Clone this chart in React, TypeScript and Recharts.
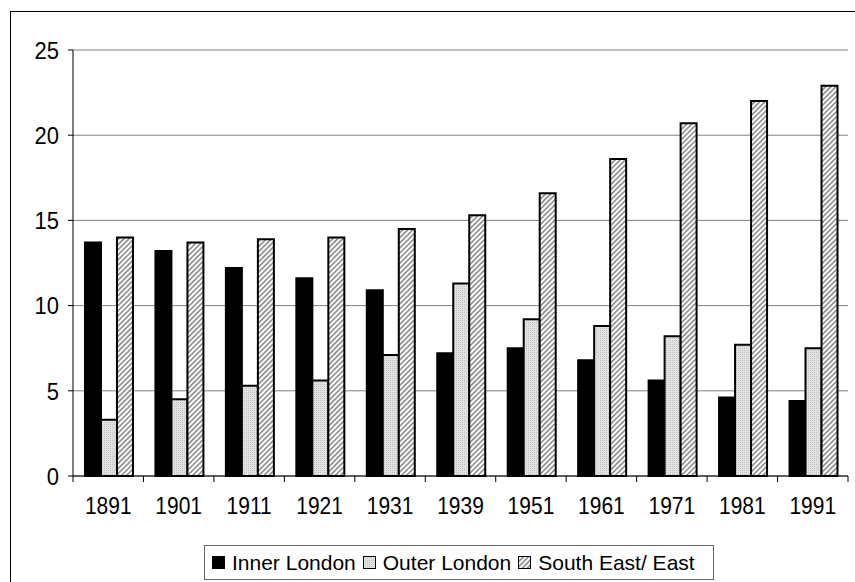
import { BarChart, Bar, XAxis, YAxis, CartesianGrid, Legend } from 'recharts'

const years = ['1891', '1901', '1911', '1921', '1931', '1939', '1951', '1961', '1971', '1981', '1991']
const innerLondon = [13.7, 13.2, 12.2, 11.6, 10.9, 7.2, 7.5, 6.8, 5.6, 4.6, 4.4]
const outerLondon = [3.3, 4.5, 5.3, 5.6, 7.1, 11.3, 9.2, 8.8, 8.2, 7.7, 7.5]
const southEast = [14.0, 13.7, 13.9, 14.0, 14.5, 15.3, 16.6, 18.6, 20.7, 22.0, 22.9]
const yTicks = [0, 5, 10, 15, 20, 25]

const seriesNames = ['Inner London', 'Outer London', 'South East/ East']

const data = years.map((year, i) => ({
    year,
    inner: innerLondon[i],
    outer: outerLondon[i],
    se: southEast[i],
}))

const W = 855
const H = 582
const FONT = '"Liberation Sans", Arial, sans-serif'
const PLOT_LEFT = 73
const PLOT_RIGHT = 848
const HALF_BAND = (PLOT_RIGHT - PLOT_LEFT) / years.length / 2

const fills = ['#000', 'url(#outerDots)', 'url(#seHatch)']

function XTick({ x, y, payload, index }: any) {
    return (
        <g>
            <line x1={x - HALF_BAND} x2={x - HALF_BAND} y1={y} y2={y + 6} stroke="#000" />
            {index === years.length - 1 && (
                <line x1={x + HALF_BAND} x2={x + HALF_BAND} y1={y} y2={y + 6} stroke="#000" />
            )}
            <text
                transform={`translate(${x},${y + 38}) scale(1,1.12)`}
                textAnchor="middle"
                fill="#000"
                fontSize={21}
                fontFamily={FONT}
            >
                {payload.value}
            </text>
        </g>
    )
}

function YTick({ x, y, payload }: any) {
    return (
        <text
            transform={`translate(${x},${y}) scale(1,1.1)`}
            dy="0.36em"
            textAnchor="end"
            fill="#000"
            fontSize={22}
            fontFamily={FONT}
        >
            {payload.value}
        </text>
    )
}

function ChartLegend() {
    return (
        <div
            style={{
                position: 'absolute',
                left: 204,
                top: 545,
                width: 508,
                height: 33,
                border: '1px solid #666',
                background: '#fff',
                display: 'flex',
                alignItems: 'center',
                fontFamily: FONT,
                fontSize: 21,
                color: '#000',
                boxSizing: 'content-box',
                whiteSpace: 'nowrap',
            }}
        >
            {seriesNames.map((name, i) => (
                <div key={name} style={{ display: 'flex', alignItems: 'center', marginLeft: i === 0 ? 7 : 7 }}>
                    <svg width={13} height={13} style={{ marginRight: 7 }}>
                        <rect x={0.5} y={0.5} width={12} height={12} fill={fills[i]} stroke="#000" strokeWidth={1} />
                    </svg>
                    <span>{name}</span>
                </div>
            ))}
        </div>
    )
}

export default function App() {
    return (
        <div style={{ position: 'absolute', left: 0, top: 0, width: W, height: H, overflow: 'hidden', background: '#fff' }}>
            <div
                style={{
                    position: 'absolute',
                    left: 10,
                    top: 11,
                    width: 900,
                    height: 700,
                    borderLeft: '1px solid #000',
                    borderTop: '1px solid #000',
                }}
            />
            <BarChart
                width={W}
                height={H}
                data={data}
                margin={{ top: 50, right: W - PLOT_RIGHT, left: 10, bottom: 76 }}
                barCategoryGap="17%"
                barGap={0}
                style={{ position: 'absolute', left: 0, top: 0 }}
            >
                <defs>
                    <pattern id="outerDots" width={2} height={2} patternUnits="userSpaceOnUse">
                        <rect width={2} height={2} fill="#e2e2e2" />
                        <rect x={0} y={0} width={1} height={1} fill="#c4c4c4" />
                    </pattern>
                    <pattern id="seHatch" width={3.6} height={3.6} patternUnits="userSpaceOnUse" patternTransform="rotate(45)">
                        <rect width={3.6} height={3.6} fill="#fff" />
                        <rect width={1.6} height={3.6} fill="#8a8a8a" />
                    </pattern>
                </defs>
                <CartesianGrid vertical={false} stroke="#808080" strokeWidth={1} />
                <XAxis
                    dataKey="year"
                    height={30}
                    tickSize={0}
                    tickMargin={0}
                    tickLine={false}
                    axisLine={{ stroke: '#000', strokeWidth: 1 }}
                    tick={<XTick />}
                    interval={0}
                />
                <YAxis
                    width={63}
                    domain={[0, 25]}
                    ticks={yTicks}
                    tickSize={5}
                    tickMargin={9}
                    axisLine={{ stroke: '#000', strokeWidth: 1 }}
                    tickLine={{ stroke: '#000', strokeWidth: 1 }}
                    tick={<YTick />}
                />
                <YAxis
                    yAxisId="frame"
                    orientation="right"
                    width={0}
                    tick={false}
                    tickLine={false}
                    axisLine={{ stroke: '#808080', strokeWidth: 1 }}
                />
                <Legend content={() => <ChartLegend />} wrapperStyle={{ position: 'absolute', left: 0, top: 0, width: 0, height: 0 }} />
                <Bar dataKey="inner" name={seriesNames[0]} fill={fills[0]} stroke="#000" strokeWidth={2} isAnimationActive={false} />
                <Bar dataKey="outer" name={seriesNames[1]} fill={fills[1]} stroke="#000" strokeWidth={2} isAnimationActive={false} />
                <Bar dataKey="se" name={seriesNames[2]} fill={fills[2]} stroke="#000" strokeWidth={2} isAnimationActive={false} />
            </BarChart>
        </div>
    )
}
